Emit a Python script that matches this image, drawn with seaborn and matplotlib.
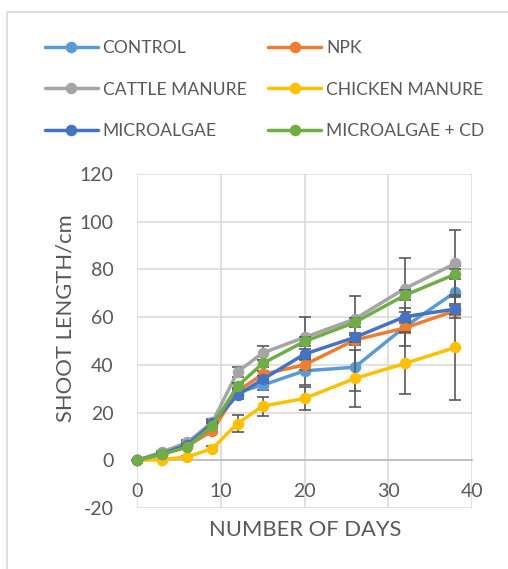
import matplotlib.pyplot as plt
import pandas as pd
import seaborn as sns
from matplotlib.lines import Line2D
from matplotlib.patches import Rectangle

# Data
days = [0, 3, 6, 9, 12, 15, 20, 26, 32, 38]
control = [0, 3.0, 6.5, 15.5, 28.5, 31.5, 37.5, 39.0, 56.0, 70.5]
npk = [0, 2.5, 6.0, 12.3, 29.0, 36.0, 40.0, 50.4, 55.5, 62.7]
cattle = [0, 3.5, 7.5, 16.0, 37.0, 45.0, 51.5, 59.2, 72.0, 82.5]
chicken = [0, 0.3, 1.4, 4.9, 15.4, 22.7, 25.9, 34.3, 40.6, 47.3]
micro = [0, 2.8, 6.5, 15.5, 27.3, 33.9, 44.5, 51.5, 60.2, 63.4]
micro_cd = [0, 2.5, 5.5, 14.5, 31.1, 40.6, 49.8, 57.8, 69.2, 78.0]

control_err = [0, 0.5, 1, 1.5, 2, 2, 6, 10, 8, 11]
npk_err = [0, 0.3, 0.5, 1, 1.5, 1.5, 2, 2, 2, 2]
cattle_err = [0, 0.5, 1, 1.5, 2, 3, 8.5, 9.5, 13, 14]
chicken_err = [0, 0.3, 0.5, 1, 3.5, 4, 5, 12, 13, 22]
micro_err = [0, 0.3, 0.5, 1, 1.5, 1.5, 2, 2, 2, 2]
micro_cd_err = [0, 0.3, 0.5, 1, 1.5, 1.5, 2, 2, 2, 2]

names = ['CONTROL', 'NPK', 'CATTLE MANURE', 'CHICKEN MANURE', 'MICROALGAE', 'MICROALGAE + CD']
colors = ['#5B9BD5', '#ED7D31', '#A5A5A5', '#FFC000', '#4472C4', '#70AD47']
values = [control, npk, cattle, chicken, micro, micro_cd]
errors = [control_err, npk_err, cattle_err, chicken_err, micro_err, micro_cd_err]

sns.set_theme(style='white')
plt.rcParams['font.family'] = ['Lato', 'DejaVu Sans']
plt.rcParams['axes.unicode_minus'] = False
text_col = '#595959'

fig = plt.figure(figsize=(5.08, 5.69), dpi=100)
W, H = 508, 569
# chart area border (only top/left visible in the crop)
fig.patches.append(Rectangle((7 / W, -0.1), 1.2, 1 - 12 / H + 0.1, transform=fig.transFigure,
                             fill=False, edgecolor='#D9D9D9', lw=1.2))

ax = fig.add_axes([137 / W, 1 - 508 / H, (472 - 137) / W, (508 - 174) / H])

for i, (name, vals, err, col) in enumerate(zip(names, values, errors, colors)):
    df = pd.DataFrame({'day': days, 'length': vals})
    sns.lineplot(data=df, x='day', y='length', color=col, marker='o', markersize=8.3,
                 markeredgewidth=0, linewidth=2.5, ax=ax, zorder=3 + i, clip_on=False)
    ax.errorbar(days, vals, yerr=err, fmt='none', ecolor='#595959', elinewidth=1.2,
                capsize=4.5, capthick=1.2, zorder=3 + i - 0.5, clip_on=False)

ax.set_xlim(0, 40)
ax.set_ylim(-20, 120)
ax.set_xticks(range(0, 41, 10))
ax.set_yticks(range(-20, 121, 20))
ax.grid(True, color='#D9D9D9', linewidth=1.1)
ax.set_axisbelow(True)
for s in ['top', 'right', 'left']:
    ax.spines[s].set_visible(False)
ax.spines['bottom'].set_position(('data', 0))
ax.spines['bottom'].set_color('#BFBFBF')
ax.spines['bottom'].set_linewidth(1.3)
ax.spines['bottom'].set_zorder(2)
ax.tick_params(axis='both', length=0, labelsize=14, labelcolor=text_col)
ax.tick_params(axis='x', pad=16)
ax.tick_params(axis='y', pad=17)
ax.set_xlabel('')
ax.set_ylabel('')

fig.text(305 / W, 1 - 530 / H, 'NUMBER OF DAYS', ha='center', va='center',
         fontsize=15.8, color=text_col)
fig.text(66 / W, 1 - 318 / H, 'SHOOT LENGTH/cm', ha='center', va='center',
         rotation=90, fontsize=15.8, color=text_col)

handles = [Line2D([], [], color=c, lw=2.5, marker='o', markersize=8.3, markeredgewidth=0)
           for c in colors]
order = [0, 2, 4, 1, 3, 5]
fig.legend([handles[k] for k in order], [names[k] for k in order], ncol=2,
           loc='upper left', bbox_to_anchor=(45 / W, 1 - 40 / H), frameon=False,
           fontsize=12.6, labelcolor=text_col, handlelength=3.0, handletextpad=0.29,
           columnspacing=1.26, labelspacing=1.46, borderpad=0, borderaxespad=0)

fig.savefig('out.png', dpi=100)
